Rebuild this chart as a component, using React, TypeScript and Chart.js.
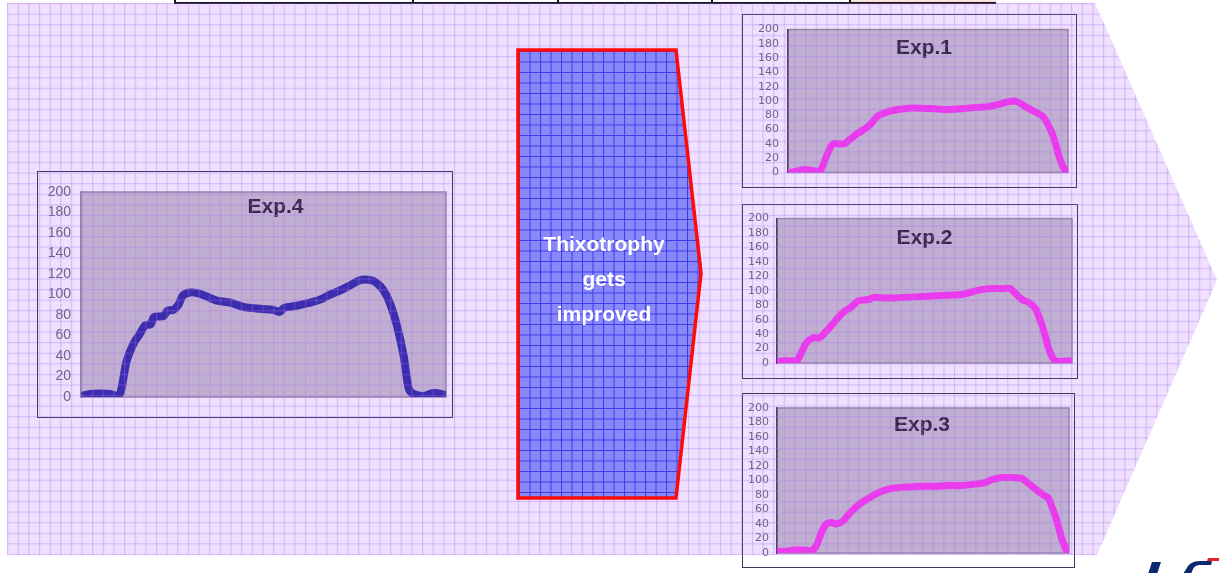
import React, { useEffect, useRef } from "react";
import { Chart, registerables } from "chart.js";

Chart.register(...registerables);

// ---------- DATA ----------
const yTickValues = [0, 20, 40, 60, 80, 100, 120, 140, 160, 180, 200];

const exp4X = [0, 2.5, 8.0, 10.0, 10.9, 12.5, 14.4, 16.2, 17.6, 19.1, 20.0, 22.6, 23.7, 25.3, 26.7, 27.9, 29.9, 32.2, 34.5, 37.2, 40.9, 44.5, 49.1, 52.7, 54.4, 55.7, 59.1, 62.8, 65.5, 68.3, 71.0, 73.8, 76.5, 79.3, 81.1, 82.9, 84.7, 86.6, 88.4, 89.8, 91.1, 93.9, 96.6, 100];
const exp4Y = [1, 3, 3, 1, 5, 35, 52, 62, 70, 71, 78, 79, 84, 85, 90, 99, 102, 101, 98, 94, 92, 88, 86, 85, 83, 87, 89, 92, 95, 100, 104, 109, 114, 114, 111, 104, 91, 69, 40, 8, 3, 1, 4, 2];

const exp1X = [0, 2.4, 6.0, 8.3, 11.3, 12.5, 14.3, 16.1, 17.9, 20.2, 22.0, 25.0, 28.6, 32.1, 35.7, 39.3, 42.9, 47.6, 52.4, 57.1, 61.9, 66.7, 71.4, 75.0, 78.6, 81.0, 83.3, 85.7, 88.7, 91.1, 93.5, 95.2, 97.0, 98.6, 100];
const exp1Y = [0, 1, 4, 3, 2, 10, 28, 40, 40, 40, 46, 55, 64, 79, 85, 88, 90, 90, 89, 88, 89, 91, 92, 95, 99, 100, 96, 90, 84, 78, 62, 45, 20, 5, 1];

const exp2X = [0.3, 2.6, 6.0, 7.1, 8.3, 10.0, 12.2, 14.5, 16.2, 18.5, 20.7, 23.0, 25.3, 27.5, 30.9, 33.2, 36.6, 40.0, 43.4, 49.0, 53.6, 58.1, 62.6, 64.9, 68.3, 71.7, 76.2, 79.0, 80.7, 83.0, 85.3, 87.5, 88.7, 90.4, 92.1, 93.8, 95.5, 98.9, 100];
const exp2Y = [2, 3, 3, 5, 15, 28, 35, 35, 42, 52, 63, 72, 78, 86, 88, 91, 90, 90, 91, 92, 93, 94, 95, 97, 101, 103, 103, 103, 97, 88, 84, 76, 65, 45, 20, 5, 2, 3, 2];

const exp3X = [0, 2.6, 6.1, 9.5, 11.8, 13.5, 15.2, 16.9, 18.6, 20.3, 22.6, 24.9, 27.8, 31.2, 34.6, 38.1, 41.5, 44.9, 49.5, 54.1, 58.6, 63.2, 67.8, 71.2, 73.5, 76.9, 80.3, 83.8, 86.1, 88.3, 91.2, 92.9, 94.3, 95.8, 97.5, 99.2];
const exp3Y = [3, 2, 4, 4, 3, 10, 28, 40, 42, 40, 44, 55, 66, 75, 83, 88, 90, 91, 92, 92, 93, 93, 95, 97, 101, 104, 104, 103, 96, 89, 80, 76, 62, 45, 20, 3];

const arrowText = ["Thixotrophy", "gets", "improved"];

// ---------- CHART COMPONENT ----------
type Spec = {
  title: string;
  xs: number[];
  ys: number[];
  color: string;
  lineWidth: number;
  rect: [number, number, number, number];
  plotLeft: number;
  padTop: number;
  padRight: number;
  padBottom: number;
  tickFont: { family: string; size: number };
  tickPad: number;
  titleDx: number;
  titleDy: number;
  leftBorder: string;
};

const plotBoxPlugin = {
  id: "plotBox",
  beforeDraw(chart: any) {
    const { ctx, chartArea: a } = chart;
    ctx.save();
    ctx.fillStyle = "rgba(140,118,160,0.47)";
    ctx.fillRect(a.left, a.top, a.right - a.left, a.bottom - a.top);
    ctx.strokeStyle = "#9484A6";
    ctx.lineWidth = 1.5;
    ctx.strokeRect(a.left, a.top, a.right - a.left, a.bottom - a.top);
    ctx.restore();
  },
  afterDraw(chart: any, _args: any, opts: any) {
    const { ctx, chartArea: a } = chart;
    ctx.save();
    ctx.fillStyle = "#38284E";
    ctx.font = "bold 21px 'Liberation Sans', Arial, sans-serif";
    ctx.textAlign = "center";
    ctx.textBaseline = "middle";
    ctx.fillText(opts.text, (a.left + a.right) / 2 + opts.dx, a.top + opts.dy);
    ctx.restore();
  },
};

function MiniChart({ spec }: { spec: Spec }) {
  const ref = useRef<HTMLCanvasElement>(null);
  useEffect(() => {
    const chart = new Chart(ref.current as HTMLCanvasElement, {
      type: "line",
      data: {
        datasets: [
          {
            data: spec.xs.map((x, i) => ({ x, y: spec.ys[i] })),
            borderColor: spec.color,
            borderWidth: spec.lineWidth,
            pointRadius: 0,
            tension: 0.3,
            fill: false,
            borderCapStyle: "round",
            borderJoinStyle: "round",
          } as any,
        ],
      },
      options: {
        animation: false,
        responsive: false,
        maintainAspectRatio: false,
        layout: { padding: { left: 0, top: spec.padTop, right: spec.padRight, bottom: spec.padBottom } },
        plugins: {
          legend: { display: false },
          tooltip: { enabled: false },
          plotBox: { text: spec.title, dx: spec.titleDx, dy: spec.titleDy },
        } as any,
        scales: {
          x: { type: "linear", min: 0, max: 100, display: false },
          y: {
            min: 0,
            max: 200,
            afterBuildTicks: (s: any) => {
              s.ticks = yTickValues.map((v) => ({ value: v }));
            },
            afterFit: (s: any) => {
              s.width = spec.plotLeft;
            },
            grid: { display: false, drawTicks: false },
            border: { display: true, color: spec.leftBorder, width: 1.5 },
            ticks: { color: "#6F6182", font: spec.tickFont, padding: spec.tickPad, autoSkip: false },
          },
        },
      },
      plugins: [plotBoxPlugin],
    });
    return () => chart.destroy();
  }, []);
  const [l, t, w, h] = spec.rect;
  return (
    <>
      <canvas
        ref={ref}
        width={w}
        height={h}
        style={{ position: "absolute", left: l, top: t, width: w, height: h, zIndex: 1 }}
      />
      <div
        style={{
          position: "absolute",
          left: l,
          top: t,
          width: w,
          height: h,
          boxSizing: "border-box",
          border: "1.5px solid #43375A",
          zIndex: 1,
        }}
      />
    </>
  );
}

const specs: Spec[] = [
  {
    title: "Exp.4",
    xs: exp4X,
    ys: exp4Y,
    color: "#3A2DAE",
    lineWidth: 8,
    rect: [37, 171, 416, 247],
    plotLeft: 44,
    padTop: 21,
    padRight: 7,
    padBottom: 21,
    tickFont: { family: "'Liberation Sans', Arial, sans-serif", size: 14 },
    tickPad: 10,
    titleDx: 12,
    titleDy: 15,
    leftBorder: "#9484A6",
  },
  {
    title: "Exp.1",
    xs: exp1X,
    ys: exp1Y,
    color: "#EE38EE",
    lineWidth: 7,
    rect: [742, 14, 335, 174],
    plotLeft: 46,
    padTop: 14,
    padRight: 9,
    padBottom: 15,
    tickFont: { family: "'DejaVu Sans', sans-serif", size: 11 },
    tickPad: 9,
    titleDx: -4,
    titleDy: 19,
    leftBorder: "#4A3D5E",
  },
  {
    title: "Exp.2",
    xs: exp2X,
    ys: exp2Y,
    color: "#EE38EE",
    lineWidth: 7,
    rect: [742, 204, 336, 175],
    plotLeft: 35,
    padTop: 14,
    padRight: 6,
    padBottom: 16,
    tickFont: { family: "'DejaVu Sans', sans-serif", size: 11 },
    tickPad: 8,
    titleDx: 0,
    titleDy: 20,
    leftBorder: "#4A3D5E",
  },
  {
    title: "Exp.3",
    xs: exp3X,
    ys: exp3Y,
    color: "#EE38EE",
    lineWidth: 7,
    rect: [742, 393, 333, 175],
    plotLeft: 35,
    padTop: 15,
    padRight: 6,
    padBottom: 15,
    tickFont: { family: "'DejaVu Sans', sans-serif", size: 11 },
    tickPad: 8,
    titleDx: -1,
    titleDy: 17,
    leftBorder: "#4A3D5E",
  },
];

const pentagon = "polygon(7px 3px, 1095px 3px, 1217px 280px, 1097px 555px, 7px 555px)";

export default function App() {
  return (
    <div
      style={{
        position: "fixed",
        left: 0,
        top: 0,
        width: 1219,
        height: 573,
        background: "#ffffff",
        overflow: "hidden",
      }}
    >
      {/* base pentagon */}
      <div
        style={{
          position: "absolute",
          left: 0,
          top: 0,
          width: 1219,
          height: 573,
          background: "#EEE0FE",
          clipPath: pentagon,
          zIndex: 0,
        }}
      />
      {/* top table fragment */}
      <div style={{ position: "absolute", left: 174, top: -12, width: 822, height: 16, boxSizing: "border-box", border: "2px solid #151515", background: "#fff", zIndex: 1 }}>
        {[412, 557, 711, 849].map((x) => (
          <div key={x} style={{ position: "absolute", left: x - 176, top: 0, width: 2, height: 14, background: "#151515" }} />
        ))}
        <div style={{ position: "absolute", left: 851 - 176, top: 0, width: 145, height: 12, background: "#FCE3E1" }} />
      </div>
      {specs.map((s) => (
        <MiniChart key={s.title} spec={s} />
      ))}
      {/* grid overlay */}
      <div
        style={{
          position: "absolute",
          left: 0,
          top: 0,
          width: 1219,
          height: 573,
          clipPath: pentagon,
          zIndex: 2,
          pointerEvents: "none",
          backgroundImage:
            "linear-gradient(to right, rgba(175,110,240,0.33) 1px, rgba(175,110,240,0.08) 1px, rgba(175,110,240,0.08) 2px, transparent 2px), linear-gradient(to bottom, rgba(175,110,240,0.33) 1px, rgba(175,110,240,0.08) 1px, rgba(175,110,240,0.08) 2px, transparent 2px)",
          backgroundSize: "10.65px 10.6px, 10.65px 10.6px",
          backgroundPosition: "7px 3px, 7px 3px",
        }}
      />
      {/* big arrow + logo */}
      <svg width={1219} height={573} style={{ position: "absolute", left: 0, top: 0, zIndex: 3 }}>
        <defs>
          <pattern id="blueGrid" x={519} y={51} width={10.5} height={10.5} patternUnits="userSpaceOnUse">
            <rect x={0} y={0} width={10.5} height={10.5} fill="#8888FA" />
            <path d="M0 0.5 H10.5 M0.5 0 V10.5" stroke="#3B3BEA" strokeWidth={1} />
          </pattern>
        </defs>
        <polygon points="518,50 676,50 701,273 676,498 518,498" fill="url(#blueGrid)" stroke="#FF0A0A" strokeWidth={3.5} />
        {arrowText.map((t, i) => (
          <text
            key={t}
            x={604}
            y={251 + i * 35}
            fill="#ffffff"
            textAnchor="middle"
            style={{ font: "bold 21px 'Liberation Sans', Arial, sans-serif" }}
          >
            {t}
          </text>
        ))}
        {/* logo fragment */}
        <polygon points="1152,562 1161,562 1157,574 1148,574" fill="#0B2A6E" />
        <path d="M1183,574 L1188,566 Q1192,561 1200,561 L1212,561 L1211,565 L1200,565 Q1195,565 1193,569 L1191,574 Z" fill="#0B2A6E" />
        <polygon points="1208,558 1219,558 1219,561 1207,561" fill="#E8202A" />
      </svg>
    </div>
  );
}
